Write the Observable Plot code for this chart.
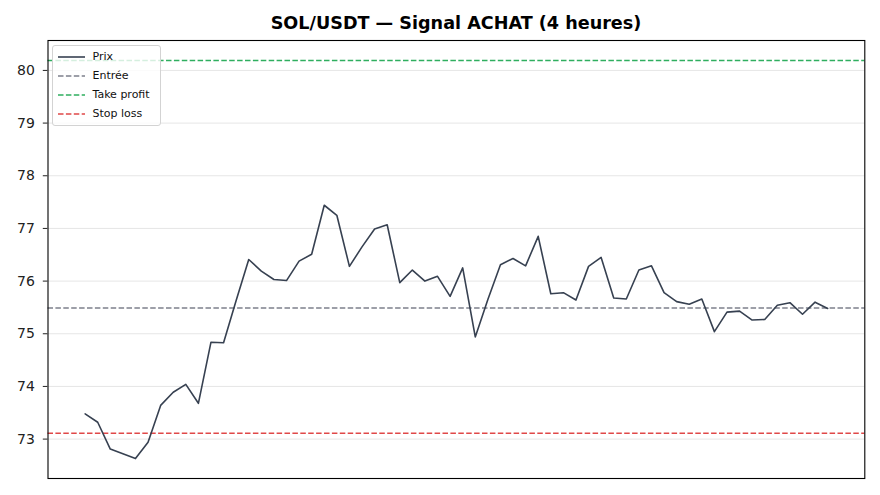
<!DOCTYPE html>
<html>
<head>
<meta charset="utf-8">
<script src="https://cdn.jsdelivr.net/npm/d3@7"></script>
<script src="https://cdn.jsdelivr.net/npm/@observablehq/plot@0.6"></script>
<style>
  html, body { margin: 0; padding: 0; background: #fff; }
  #wrap { position: relative; width: 880px; height: 495px; font-family: "DejaVu Sans", sans-serif; }
  #title { position: absolute; left: 47.5px; width: 817px; top: 12px; text-align: center; font-weight: bold; font-size: 17.6px; color: #000; line-height: 22px; }
  #chart { position: absolute; left: 0; top: 34px; }
  #legend { position: absolute; left: 51.5px; top: 45px; width: 107px; height: 79px; border: 1px solid #d3d3d3; border-radius: 3px; background: rgba(255,255,255,0.8); font-size: 11px; color: #111; }
  .row { position: absolute; left: 0; height: 14px; }
  .row svg { position: absolute; left: 4px; top: 0; }
  .row span { position: absolute; left: 40px; top: 0; line-height: 14px; white-space: nowrap; }
</style>
</head>
<body>
<div id="wrap">
  <div id="title"></div>
  <div id="chart"></div>
  <div id="legend"></div>
</div>
<script>
const titleText = "SOL/USDT — Signal ACHAT (4 heures)";
const prices = [73.48, 73.32, 72.81, 72.72, 72.63, 72.94, 73.64, 73.89, 74.04, 73.68,
                74.84, 74.83, 75.63, 76.41, 76.19, 76.03, 76.01, 76.38, 76.51, 77.44,
                77.25, 76.28, 76.65, 76.99, 77.07, 75.97, 76.21, 76.00, 76.09, 75.71,
                76.25, 74.94, 75.65, 76.31, 76.43, 76.29, 76.85, 75.76, 75.78, 75.64,
                76.28, 76.45, 75.68, 75.66, 76.21, 76.29, 75.78, 75.61, 75.56, 75.66,
                75.04, 75.41, 75.43, 75.26, 75.27, 75.54, 75.59, 75.37, 75.60, 75.48];
const entry = 75.49;
const takeProfit = 80.19;
const stopLoss = 73.11;
const yTicks = [73, 74, 75, 76, 77, 78, 79, 80];
const legendLabels = ["Prix", "Entrée", "Take profit", "Stop loss"];
const legendColors = ["#374151", "#7d808c", "#2fae5f", "#e04848"];
const legendDashed = [false, true, true, true];

const series = prices.map((p, i) => ({i, p}));
const n = prices.length - 1;
const pad = n * 0.05;
const ymin = Math.min(...prices, stopLoss, entry, takeProfit);
const ymax = Math.max(...prices, stopLoss, entry, takeProfit);
const ypad = (ymax - ymin) * 0.05;

document.getElementById("title").textContent = titleText;

const dash = "5.5,2.4";
const chart = Plot.plot({
  width: 880,
  height: 461,
  marginTop: 6,
  marginBottom: 17,
  marginLeft: 47.5,
  marginRight: 15.7,
  style: {fontFamily: "DejaVu Sans, sans-serif", fontSize: "14px", color: "#222", background: "white"},
  x: {domain: [-pad, n + pad], axis: null},
  y: {domain: [ymin - ypad, ymax + ypad], ticks: yTicks, tickFormat: d => String(d), tickSize: 4.7, tickPadding: 8.5, label: null},
  marks: [
    Plot.gridY(yTicks, {stroke: "#e6e6e6", strokeOpacity: 1, strokeWidth: 1}),
    Plot.ruleY([entry], {stroke: legendColors[1], strokeWidth: 1.5, strokeDasharray: dash}),
    Plot.ruleY([takeProfit], {stroke: legendColors[2], strokeWidth: 1.5, strokeDasharray: dash}),
    Plot.ruleY([stopLoss], {stroke: legendColors[3], strokeWidth: 1.6, strokeDasharray: dash}),
    Plot.line(series, {x: "i", y: "p", stroke: legendColors[0], strokeWidth: 1.6}),
    Plot.frame({stroke: "#000", strokeWidth: 1.1})
  ]
});
document.getElementById("chart").appendChild(chart);

const legend = document.getElementById("legend");
const rowTops = [3.5, 22.5, 41.5, 60.5];
legendLabels.forEach((lab, k) => {
  const row = document.createElement("div");
  row.className = "row";
  row.style.top = rowTops[k] + "px";
  row.innerHTML = `<svg width="30" height="14"><line x1="1" x2="28" y1="7" y2="7" stroke="${legendColors[k]}" stroke-width="1.6" ${legendDashed[k] ? `stroke-dasharray="${dash}"` : ""}/></svg><span></span>`;
  row.querySelector("span").textContent = lab;
  legend.appendChild(row);
});
</script>
</body>
</html>
